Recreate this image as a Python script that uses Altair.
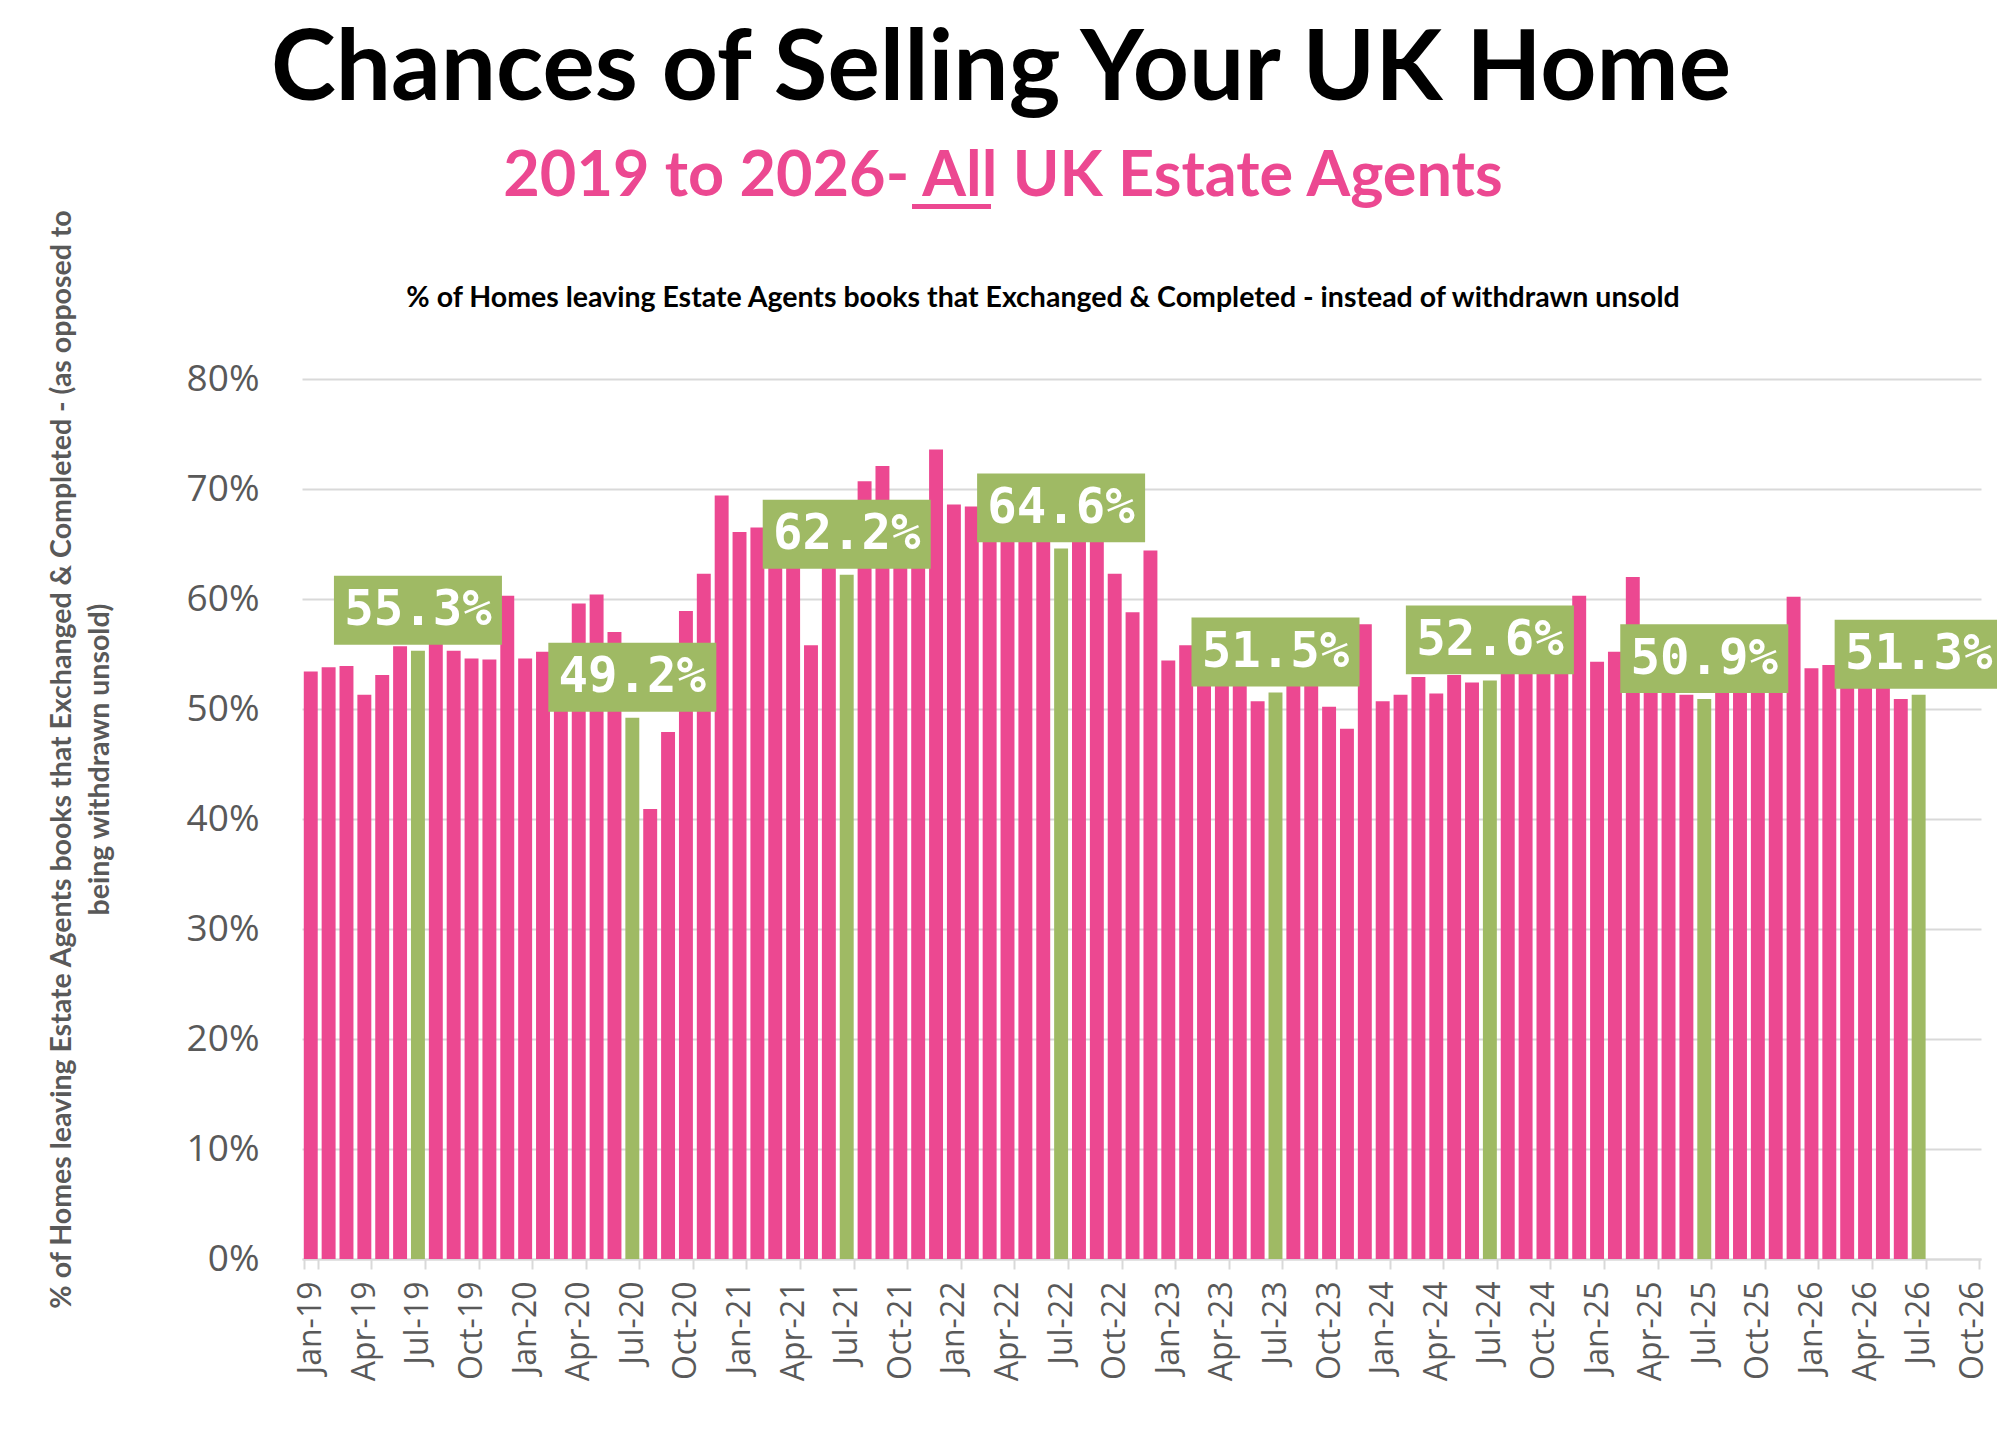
import altair as alt
import pandas as pd

# ---------------- data ----------------
month_names = ["Jan", "Feb", "Mar", "Apr", "May", "Jun",
               "Jul", "Aug", "Sep", "Oct", "Nov", "Dec"]
years = ["19", "20", "21", "22", "23", "24", "25", "26"]
# axis runs Jan-19 .. Oct-26
all_months = [f"{m}-{y}" for y in years for m in month_names][:94]
tick_months = all_months[::3]

v2019 = [53.4, 53.8, 53.9, 51.3, 53.1, 55.7, 55.3, 56.3, 55.3, 54.6, 54.5, 60.3]
v2020 = [54.6, 55.2, 55.0, 59.6, 60.4, 57.0, 49.2, 40.9, 47.9, 58.9, 62.3, 69.4]
v2021 = [66.1, 66.5, 67.0, 66.0, 55.8, 65.0, 62.2, 70.7, 72.1, 68.0, 67.5, 73.6]
v2022 = [68.6, 68.4, 68.0, 67.5, 67.0, 66.5, 64.6, 67.0, 66.5, 62.3, 58.8, 64.4]
v2023 = [54.4, 55.8, 55.5, 55.0, 54.0, 50.7, 51.5, 54.5, 53.5, 50.2, 48.2, 57.7]
v2024 = [50.7, 51.3, 52.9, 51.4, 53.1, 52.4, 52.6, 54.5, 55.0, 55.5, 56.0, 60.3]
v2025 = [54.3, 55.2, 62.0, 54.5, 53.5, 51.3, 50.9, 53.0, 53.5, 54.5, 55.0, 60.2]
v2026 = [53.7, 54.0, 54.0, 54.5, 53.5, 50.9, 51.3]

values = v2019 + v2020 + v2021 + v2022 + v2023 + v2024 + v2025 + v2026
months = all_months[:len(values)]

df = pd.DataFrame({"month": months, "pct": values})

title_text = "Chances of Selling Your UK Home"
subtitle_text = "2019 to 2026- All UK Estate Agents"
inner_title = ("% of Homes leaving Estate Agents books that Exchanged & Completed "
               "- instead of withdrawn unsold")
y_title = ["% of Homes leaving Estate Agents books that Exchanged & Completed - (as opposed to",
           "being withdrawn unsold)"]

# ---------------- style ----------------
PINK = "#EC4891"
GREEN = "#9FBA64"
GREY = "#595959"
LIGHT = "#D9D9D9"
is_july = "indexof(datum.month, 'Jul') == 0"

x_enc = alt.X(
    "month:O",
    scale=alt.Scale(type="band", domain=all_months, paddingInner=0.22, paddingOuter=0.1),
    axis=alt.Axis(
        values=tick_months, labelAngle=270, labelFont="Open Sans", labelFontSize=32,
        labelColor=GREY, labelPadding=12, tickBand="extent", tickColor=LIGHT,
        tickSize=10, tickWidth=2, domainColor=LIGHT, domainWidth=2, grid=False,
        title=None, labelOverlap=False, labelBound=False, labelFlush=False,
    ),
)
y_enc = alt.Y(
    "pct:Q",
    scale=alt.Scale(domain=[0, 80], nice=False),
    axis=alt.Axis(
        values=list(range(0, 90, 10)), labelExpr="datum.value + '%'",
        labelFont="Open Sans", labelFontSize=37, labelColor=GREY, labelPadding=43,
        ticks=False, domain=False, gridColor=LIGHT, gridWidth=2,
        title=y_title, titleFont="Lato", titleFontSize=28.5, titleFontWeight="bold",
        titleColor=GREY, titleLineHeight=38, titleAngle=270, titleAlign="center",
        titleBaseline="alphabetic", titleX=-232, titleY=380,
    ),
)

base = alt.Chart(df)

bars = base.mark_bar().encode(
    x=x_enc, y=y_enc,
    color=alt.condition(is_july, alt.value(GREEN), alt.value(PINK)),
)

boxes = base.transform_filter(is_july).mark_point(
    shape="M-1,-0.41L1,-0.41L1,0.41L-1,0.41Z", size=168 * 168, filled=True,
    fill=GREEN, opacity=1, strokeWidth=0, yOffset=-40.5,
).encode(x=x_enc, y=y_enc)

labels = base.transform_filter(is_july).transform_calculate(
    label="format(datum.pct, '.1f') + '%'"
).mark_text(
    font="DejaVu Sans Mono", fontWeight="bold", fontSize=49, color="white",
    yOffset=-40.5, baseline="middle", align="center",
).encode(x=x_enc, y=y_enc, text="label:N")

one = alt.Data(values=[{}])
title = alt.Chart(one).mark_text(
    text=title_text, font="Lato", fontWeight="bold", fontSize=98, color="black",
    align="center", baseline="alphabetic",
).encode(x=alt.value(699), y=alt.value(-279))

subtitle = alt.Chart(one).mark_text(
    text=subtitle_text, font="Lato", fontWeight="bold", fontSize=63, color=PINK,
    align="center", baseline="alphabetic",
).encode(x=alt.value(701), y=alt.value(-183))

underline = alt.Chart(one).mark_rule(color=PINK, strokeWidth=5).encode(
    x=alt.value(610), x2=alt.value(689), y=alt.value(-172.5)
)

inner = alt.Chart(one).mark_text(
    text=inner_title, font="Lato", fontWeight="bold", fontSize=28.5, color="black",
    align="center", baseline="alphabetic",
).encode(x=alt.value(741), y=alt.value(-72))

chart = alt.layer(bars, boxes, labels, title, subtitle, underline, inner).properties(
    width=1679, height=880,
    autosize=alt.AutoSizeParams(type="none"),
    padding={"left": 294, "top": 371, "right": 16, "bottom": 150},
    background="white",
).configure_view(strokeWidth=0)

chart.save("out.html", embed_options={"renderer": "svg", "actions": False})
